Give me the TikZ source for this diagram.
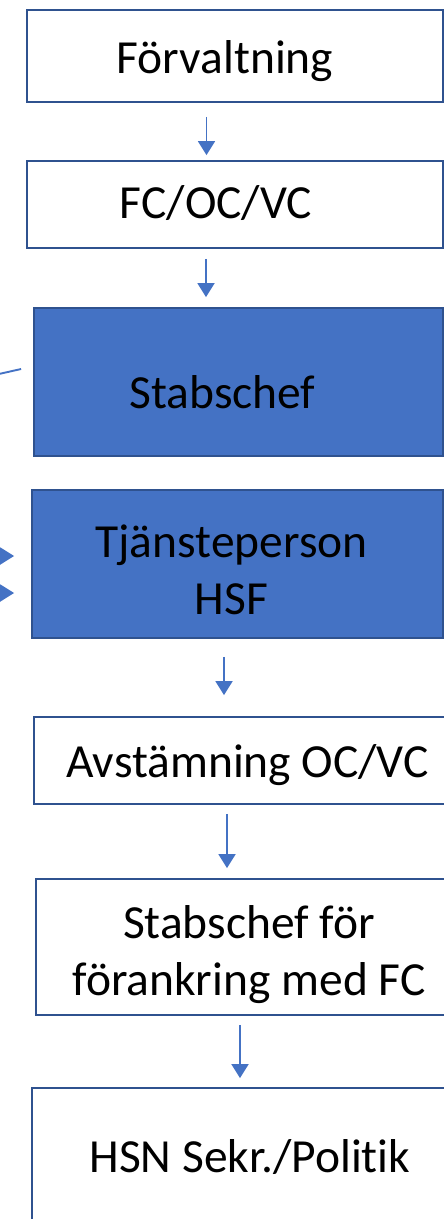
\documentclass[tikz,border=0pt]{standalone}
\usepackage{fontspec}
\setmainfont{Carlito}[Ligatures=NoCommon]
\usetikzlibrary{arrows.meta}

\definecolor{boxblue}{RGB}{68,114,196}
\definecolor{edgeblue}{RGB}{47,82,143}
\newcommand{\nudge}[2]{\hspace*{-#1}#2\hspace*{#1}}

\tikzset{
  flowbox/.style={draw=edgeblue, line width=1.8pt, rectangle, inner sep=0pt,
    text depth=0pt, font=\fontsize{47.5}{57}\selectfont},
  stabbox/.style={flowbox, fill=boxblue},
  flowarrow/.style={-{Triangle[length=14pt,width=17pt]}, draw=boxblue, line width=1.9pt},
}

\begin{document}
\begin{tikzpicture}[x=1pt,y=-1pt]
	\useasboundingbox (0,0) rectangle (444,1219);
	\clip (0,0) rectangle (444,1219);

	% boxes
	\node[flowbox, minimum width=416pt, minimum height=92pt, text height=34pt] (forv) at (235,56) {\nudge{10pt}{Förvaltning}};
	\node[flowbox, minimum width=416pt, minimum height=87pt, text height=27pt] (fcocvc) at (235,204.5) {\nudge{19pt}{FC/OC/VC}};
	\node[stabbox, minimum width=409pt, minimum height=148pt, text height=52pt] (stab) at (238.5,382) {\nudge{16pt}{Stabschef}};
	\node[stabbox, align=center, minimum width=411pt, minimum height=148pt, text height=100pt] (tjp) at (237.5,564) {\nudge{6pt}{Tjänsteperson}\\\nudge{6pt}{HSF}};
	\node[flowbox, minimum width=427pt, minimum height=87pt, text height=33pt] (avst) at (247.5,760.5) {Avstämning OC/VC};
	\node[flowbox, align=center, minimum width=426pt, minimum height=136pt, text height=96pt] (forank) at (249,947) {Stabschef för\\förankring med FC};
	\node[flowbox, minimum width=436pt, minimum height=139pt, text height=29pt] (hsn) at (250,1157.5) {HSN Sekr./Politik};

	% arrows down
	\draw [flowarrow, shorten <=14pt, shorten >=5pt] ([xshift=-28.5pt]forv.south) -- ([xshift=-28.5pt]fcocvc.north);
	\draw [flowarrow, shorten <=10pt, shorten >=10pt] ([xshift=-29pt]fcocvc.south) -- ([xshift=-32.5pt]stab.north);
	\draw [flowarrow, shorten <=18pt, shorten >=21pt] ([xshift=-13.5pt]tjp.south) -- ([xshift=-23.5pt]avst.north);
	\draw [flowarrow, shorten <=9pt, shorten >=10pt] ([xshift=-20.5pt]avst.south) -- ([xshift=-22pt]forank.north);
	\draw [flowarrow, shorten <=9pt, shorten >=9pt] ([xshift=-9pt]forank.south) -- ([xshift=-10pt]hsn.north);

	% from the left
	\coordinate (leftin) at (-10,376);
	\coordinate (lefta) at (-30,556);
	\coordinate (leftb) at (-30,593);
	\draw [boxblue, line width=1.9pt] (leftin) -- ([xshift=-12pt,yshift=13pt]stab.west);
	\draw [flowarrow] (lefta) -- ([xshift=-17pt,yshift=8pt]tjp.west);
	\draw [flowarrow] (leftb) -- ([xshift=-17pt,yshift=-29pt]tjp.west);
\end{tikzpicture}
\end{document}
